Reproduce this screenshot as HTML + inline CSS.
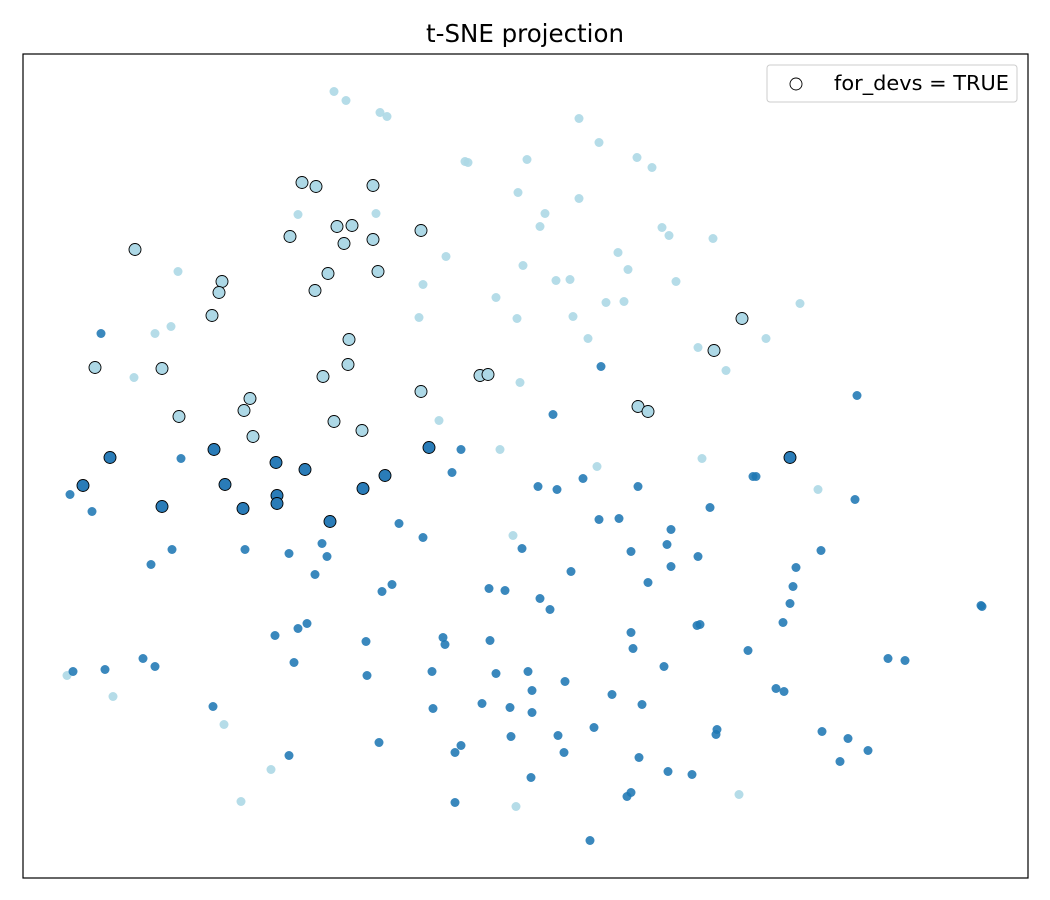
<!DOCTYPE html>
<html><head><meta charset="utf-8"><style>
html,body{margin:0;padding:0;background:#fff;}
svg{display:block;font-family:"DejaVu Sans","Liberation Sans",sans-serif;}
</style></head><body>
<svg id="s" width="1050" height="900" viewBox="0 0 1050 900" xmlns="http://www.w3.org/2000/svg">
<rect width="1050" height="900" fill="#fff"/>
<text x="525" y="42" text-anchor="middle" font-size="24.5" fill="#000">t-SNE projection</text>
<g id="pts"></g>
<rect x="23" y="54" width="1005" height="824" fill="none" stroke="#000" stroke-width="1.2"/>
<rect x="767" y="65" width="250" height="37" rx="3" fill="#fff" fill-opacity="0.8" stroke="#ccc" stroke-width="1"/>
<circle cx="796" cy="84" r="6" fill="none" stroke="#000" stroke-width="0.9"/>
<text x="834" y="90" font-size="20.5" fill="#000" textLength="175" lengthAdjust="spacingAndGlyphs">for_devs = TRUE</text>
</svg>
<script>
var L=[[334,91],[346,100],[380,112],[387,116],[579,118],[599,142],[465,161],[468,162],[527,159],[637,157],[652,167],[518,192],[579,198],[298,214],[376,213],[545,213],[540,226],[662,227],[669,235],[713,238],[178,271],[446,256],[523,265],[618,252],[628,269],[556,280],[570,279],[676,281],[423,284],[496,297],[606,302],[624,301],[800,303],[419,317],[517,318],[573,316],[155,333],[171,326],[588,338],[766,338],[698,347],[134,377],[726,370],[520,382],[439,420],[500,449],[702,458],[597,466],[818,489],[513,535],[67,675],[113,696],[224,724],[271,769],[241,801],[516,806],[739,794]];
var LC=[[302,182],[316,186],[373,185],[135,249],[290,236],[337,226],[352,225],[344,243],[373,239],[421,230],[222,281],[219,292],[328,273],[378,271],[315,290],[212,315],[349,339],[742,318],[714,350],[95,367],[162,368],[348,364],[323,376],[480,375],[488,374],[421,391],[250,398],[179,416],[244,410],[334,421],[638,406],[648,411],[362,430],[253,436]];
var DC=[[110,457],[214,449],[276,462],[305,469],[429,447],[385,475],[790,457],[83,485],[225,484],[363,488],[277,495],[277,503],[162,506],[243,508],[330,521]];
var D=[[101,333],[601,366],[553,414],[857,395],[181,458],[461,449],[452,472],[70,494],[92,511],[538,486],[557,489],[583,478],[638,486],[753,476],[756,476],[855,499],[399,523],[423,537],[599,519],[619,518],[710,507],[671,529],[172,549],[151,564],[245,549],[289,553],[322,543],[327,556],[315,574],[522,548],[631,551],[667,544],[698,556],[821,550],[571,571],[671,566],[796,567],[648,582],[793,586],[392,584],[382,591],[489,588],[505,590],[540,598],[550,609],[790,603],[981,605],[982,606],[275,635],[298,628],[307,623],[366,641],[443,637],[445,644],[490,640],[631,632],[633,648],[700,624],[697,625],[783,622],[748,650],[143,658],[155,666],[105,669],[73,671],[294,662],[367,675],[432,671],[496,673],[528,671],[664,666],[888,658],[905,660],[565,681],[532,690],[612,694],[642,704],[776,688],[784,691],[213,706],[433,708],[482,703],[510,707],[532,712],[717,729],[716,734],[822,731],[848,738],[379,742],[461,745],[455,752],[511,736],[558,735],[594,727],[564,752],[289,755],[639,757],[668,771],[692,774],[868,750],[840,761],[531,777],[631,792],[627,796],[455,802],[590,840]];
var g=document.getElementById('pts'),h='';
function add(a,r,f,o,st){a.forEach(function(p){h+='<circle cx="'+p[0]+'" cy="'+(p[1]+0.5)+'" r="'+r+'" fill="'+f+'" fill-opacity="'+o+'"'+(st?' stroke="#000" stroke-width="0.9"':'')+'/>';});}
add(L,4.5,'#add8e6',0.9,false);
add(D,4.5,'#1f77b4',0.88,false);
add(LC,6,'#add8e6',1,true);
add(DC,6,'#2a7cb8',1,true);
g.innerHTML=h;
</script>
</body></html>
